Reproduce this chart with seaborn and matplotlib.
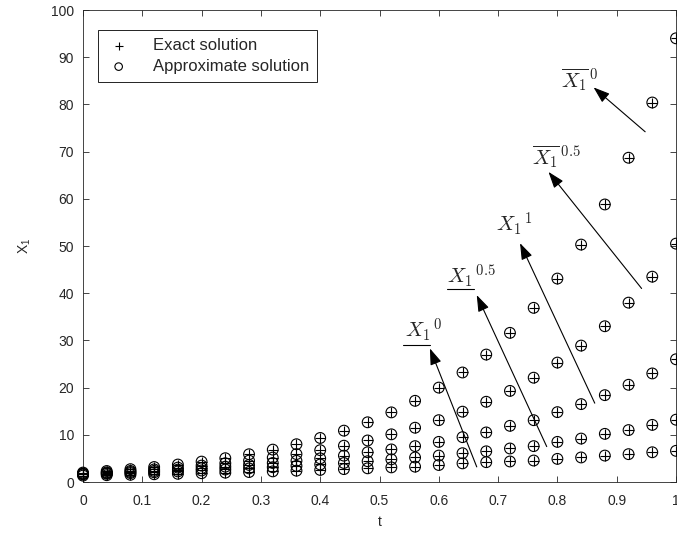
import numpy as np
import pandas as pd
import seaborn as sns
import matplotlib
matplotlib.use("Agg")
from matplotlib import pyplot as plt

# time points
t = [0, 0.04, 0.08, 0.12, 0.16, 0.2, 0.24, 0.28, 0.32, 0.36, 0.4, 0.44, 0.48,
     0.52, 0.56, 0.6, 0.64, 0.68, 0.72, 0.76, 0.8, 0.84, 0.88, 0.92, 0.96, 1.0]

# X1 for the five cases
x1_a = [1.35, 1.44, 1.53, 1.64, 1.74, 1.86, 1.98, 2.11, 2.25, 2.4, 2.56, 2.73, 2.9,
        3.1, 3.25, 3.6, 3.95, 4.2, 4.35, 4.55, 4.9, 5.2, 5.6, 5.9, 6.3, 6.6]
x1_b = [1.6, 1.74, 1.89, 2.06, 2.24, 2.44, 2.65, 2.88, 3.13, 3.41, 3.71, 4.03, 4.4,
        4.8, 5.2, 5.6, 6.1, 6.5, 7.1, 7.6, 8.5, 9.2, 10.2, 11.0, 12.1, 13.2]
x1_c = [1.7, 1.89, 2.11, 2.35, 2.62, 2.92, 3.25, 3.62, 4.03, 4.49, 5.01, 5.58, 6.3,
        6.9, 7.6, 8.5, 9.5, 10.5, 11.9, 13.1, 14.8, 16.5, 18.4, 20.6, 23.0, 26.0]
x1_d = [1.8, 2.05, 2.34, 2.67, 3.05, 3.48, 3.97, 4.53, 5.17, 5.91, 6.74, 7.69, 8.8,
        10.1, 11.5, 13.1, 14.9, 17.0, 19.3, 22.1, 25.3, 28.9, 33.0, 38.0, 43.5, 50.5]
x1_e = [2.0, 2.33, 2.72, 3.17, 3.7, 4.32, 5.04, 5.88, 6.86, 8.0, 9.33, 10.88, 12.65,
        14.75, 17.2, 20.0, 23.2, 27.0, 31.6, 36.9, 43.1, 50.3, 58.8, 68.7, 80.4, 94.0]

exact = pd.DataFrame({"t": t * 5, "X1": x1_a + x1_b + x1_c + x1_d + x1_e})
approx = exact.copy()

sns.set_style("ticks")
plt.rcParams["font.family"] = ["Liberation Sans", "DejaVu Sans"]
plt.rcParams["font.size"] = 10

fig = plt.figure(figsize=(6.77, 5.4), dpi=100)
ax = fig.add_axes([83 / 677, 58 / 540, 593 / 677, 472 / 540])

sns.scatterplot(data=exact, x="t", y="X1", marker="+", s=60, color="k",
                linewidth=0.8, label="Exact solution", ax=ax, clip_on=False, zorder=3)
sns.scatterplot(data=approx, x="t", y="X1", marker="o", s=60, facecolors="none",
                edgecolor="k", linewidth=0.8, label="Approximate solution", ax=ax,
                clip_on=False, zorder=3)

ax.set_xlim(0, 1)
ax.set_ylim(0, 100)
ax.set_xticks(np.arange(0, 1.01, 0.1))
ax.set_xticklabels(["0", "0.1", "0.2", "0.3", "0.4", "0.5", "0.6", "0.7", "0.8", "0.9", "1"])
ax.set_yticks(np.arange(0, 101, 10))
ax.tick_params(direction="in", top=True, right=True, length=4, width=0.6,
               colors="#262626", labelsize=10)
ax.tick_params(axis="x", pad=8.5)
ax.tick_params(axis="y", pad=6.5)
for sp in ax.spines.values():
    sp.set_visible(True)
    sp.set_color("#262626")
    sp.set_linewidth(0.6)

ax.set_xlabel("t", fontsize=10, labelpad=5)
ax.set_ylabel(r"X$_\mathregular{1}$", fontsize=10, labelpad=13)

leg = ax.legend(loc="upper left", bbox_to_anchor=(0.025, 0.958), borderaxespad=0,
                fancybox=False, edgecolor="k", framealpha=1, fontsize=12,
                handletextpad=1.3, borderpad=0.5, labelspacing=0.35,
                markerscale=0.7, handlelength=1.5)
leg.get_frame().set_linewidth(0.6)

# annotations: label text, label centre, arrow head, arrow tail
labels = [r"${X_1}^{\,0}$", r"${X_1}^{\,0.5}$", r"${X_1}^{\,1}$",
          r"$\overline{X_1}^{\,0.5}$", r"$\overline{X_1}^{\,0}$"]
label_pos = [(0.575, 32.2), (0.655, 43.6), (0.728, 54.7), (0.798, 68.9), (0.838, 85.2)]
heads = [(0.585, 28.3), (0.664, 39.6), (0.737, 50.6), (0.785, 65.7), (0.861, 83.6)]
tails = [(0.664, 3.2), (0.782, 7.5), (0.863, 16.7), (0.942, 41.0), (0.948, 74.2)]
underlines = [(0.540, 0.585, 29.0), (0.614, 0.660, 40.9)]

for lab, pos in zip(labels, label_pos):
    ax.text(pos[0], pos[1], lab, ha="center", va="center", fontsize=15,
            math_fontfamily="cm")
for h, tl in zip(heads, tails):
    ax.annotate("", xy=h, xytext=tl,
                arrowprops=dict(arrowstyle="-|>,head_length=1.0,head_width=0.35",
                                color="k", lw=0.8, shrinkA=0, shrinkB=0))
for x0, x1, yy in underlines:
    ax.plot([x0, x1], [yy, yy], color="k", lw=0.8)

fig.savefig("out.png", dpi=100)
